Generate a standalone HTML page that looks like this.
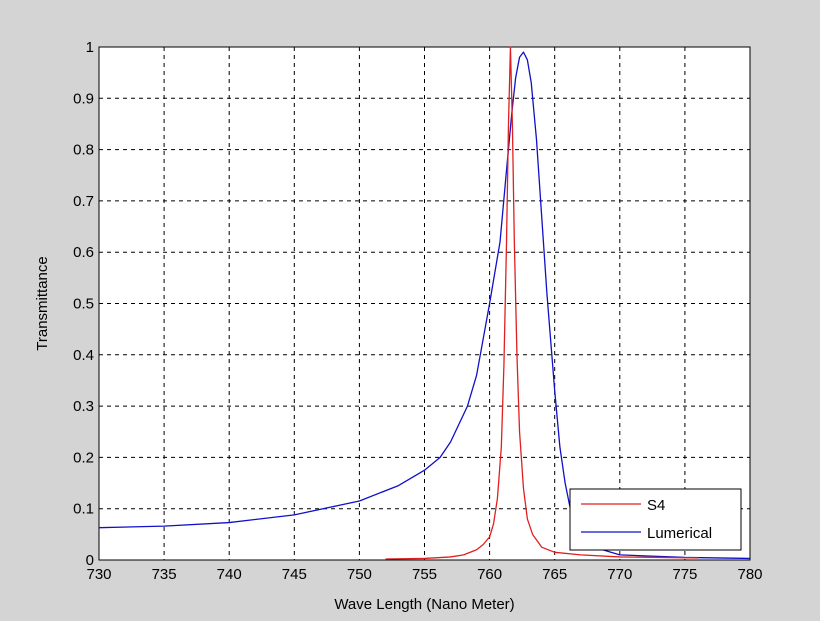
<!DOCTYPE html>
<html><head><meta charset="utf-8"><style>
body{margin:0;background:#d4d4d4;}
svg{display:block;font-family:"Liberation Sans",sans-serif;}
</style></head><body>
<svg id="c" width="820" height="621"></svg>
<script>
const xTicks=[730,735,740,745,750,755,760,765,770,775,780];
const yTicks=[0,0.1,0.2,0.3,0.4,0.5,0.6,0.7,0.8,0.9,1];
const yTickLabels=["0","0.1","0.2","0.3","0.4","0.5","0.6","0.7","0.8","0.9","1"];
const s4X=[752,755,757,758,759,759.5,760,760.3,760.6,760.9,761.1,761.3,761.45,761.6,761.75,761.9,762.1,762.3,762.6,762.9,763.3,764,765,767,770,776];
const s4Y=[0.002,0.003,0.006,0.01,0.02,0.03,0.045,0.07,0.12,0.22,0.38,0.62,0.85,1.0,0.85,0.62,0.4,0.25,0.14,0.08,0.05,0.025,0.015,0.01,0.006,0.004];
const lumX=[730,735,740,745,750,753,755,756.2,757,758.3,759,760,760.8,761.3,761.7,762,762.3,762.6,762.9,763.2,763.6,764,764.4,765,765.4,765.8,766.2,767,768,770,775,780];
const lumY=[0.063,0.066,0.073,0.088,0.115,0.145,0.175,0.2,0.23,0.3,0.36,0.5,0.62,0.76,0.87,0.94,0.98,0.99,0.975,0.93,0.82,0.67,0.52,0.33,0.22,0.15,0.1,0.05,0.025,0.01,0.005,0.003];
const NS="http://www.w3.org/2000/svg",svg=document.getElementById('c');
const X0=99,X1=750,Y0=560,Y1=47;
const sx=v=>X0+(v-730)/(780-730)*(X1-X0), sy=v=>Y0-(v)*(Y0-Y1);
function mk(t,a,p){const e=document.createElementNS(NS,t);for(const k in a)e.setAttribute(k,a[k]);(p||svg).appendChild(e);return e;}
const bg=mk('rect',{x:X0,y:Y1,width:X1-X0,height:Y0-Y1,fill:'#fff',stroke:'#000'});


xTicks.forEach(t=>{const x=sx(t);
 if(t>730&&t<780){const g=mk('line',{x1:x,x2:x,y1:Y1,y2:Y0,stroke:'#000','stroke-dasharray':'4,4','stroke-width':1});
 
 }
 const l=mk('text',{x:x,y:Y0+19,'text-anchor':'middle','font-size':15},null);l.textContent=t;
 
 });
yTicks.forEach((t,i)=>{const y=sy(t);
 if(t>0&&t<1){const g=mk('line',{x1:X0,x2:X1,y1:y,y2:y,stroke:'#000','stroke-dasharray':'4,4','stroke-width':1});
 
 }
 const l=mk('text',{x:X0-5,y:y+5,'text-anchor':'end','font-size':15});l.textContent=yTickLabels[i];
 
 });
function line(xs,ys,col,name){const p=mk('polyline',{points:xs.map((x,i)=>sx(x)+','+sy(ys[i])).join(' '),fill:'none',stroke:col,'stroke-width':1.3,'stroke-linejoin':'round'});
 
 }
line(lumX,lumY,'#1010c8','lumerical-line');
line(s4X,s4Y,'#e02020','s4-line');
const xt=mk('text',{x:(X0+X1)/2,y:609,'text-anchor':'middle','font-size':15});xt.textContent='Wave Length (Nano Meter)';


const yt=mk('text',{x:0,y:0,'text-anchor':'middle','font-size':15,transform:'translate(47,'+(Y0+Y1)/2+') rotate(-90)'});yt.textContent='Transmittance';


const lg=mk('g',{});


mk('rect',{x:570,y:489,width:171,height:61,fill:'#fff',stroke:'#000'},lg);
mk('line',{x1:581,x2:641,y1:504,y2:504,stroke:'#e02020','stroke-width':1.3},lg);
mk('line',{x1:581,x2:641,y1:532,y2:532,stroke:'#1010c8','stroke-width':1.3},lg);
const t1=mk('text',{x:647,y:510,'font-size':15},lg);t1.textContent='S4';


const t2=mk('text',{x:647,y:538,'font-size':15},lg);t2.textContent='Lumerical';


</script></body></html>
